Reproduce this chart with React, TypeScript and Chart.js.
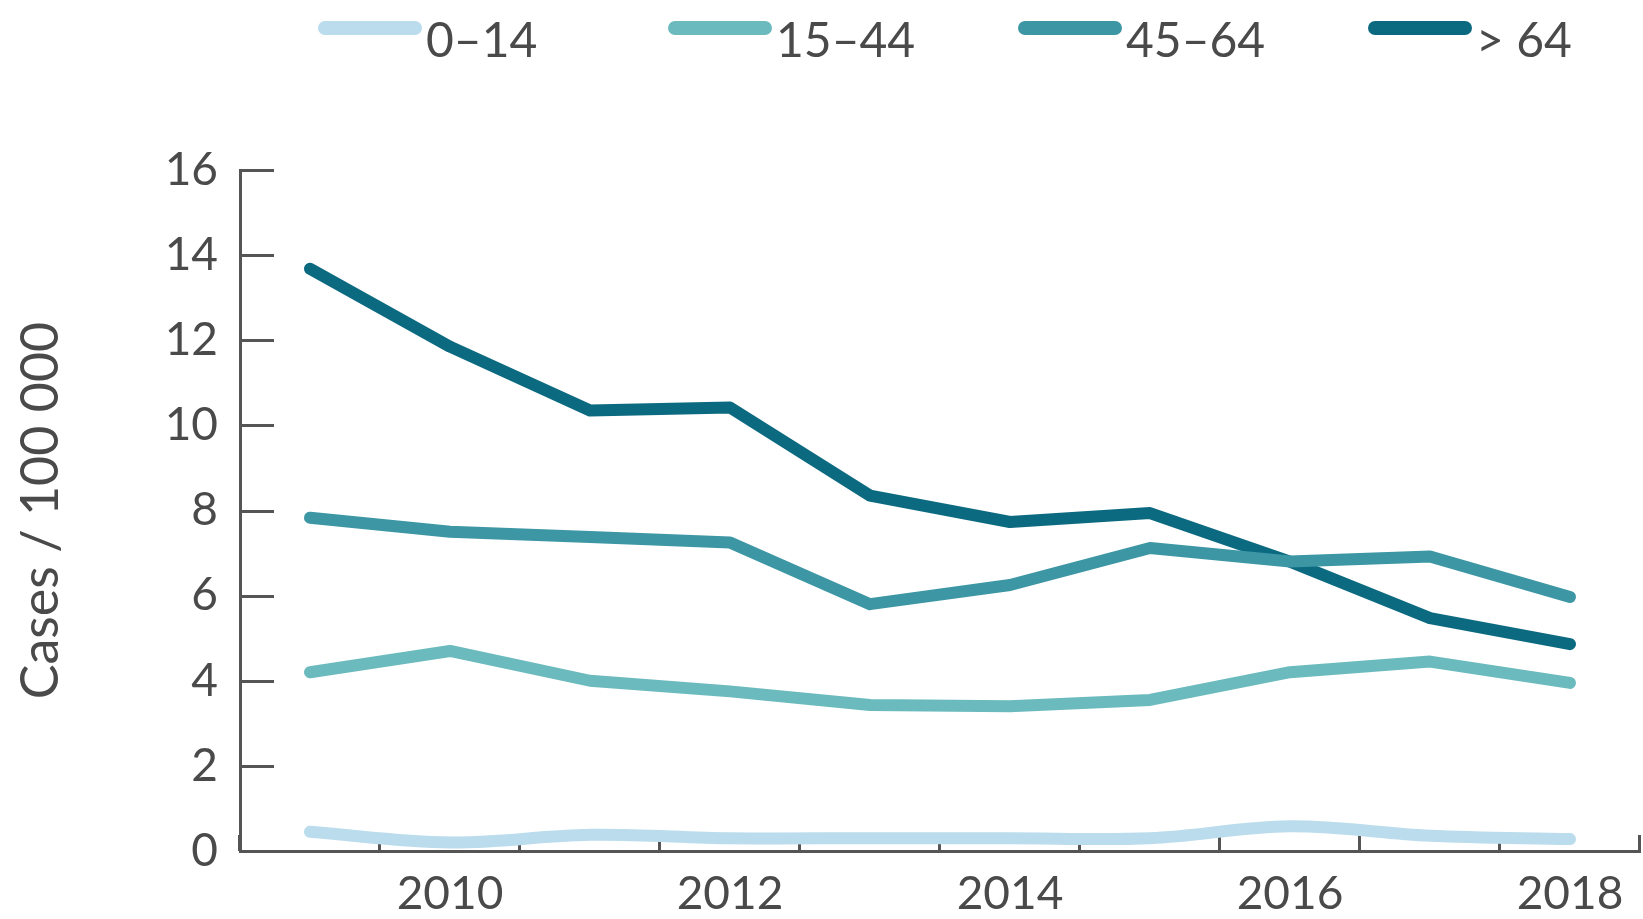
import React, { useEffect, useRef } from 'react';
import { Chart, registerables } from 'chart.js';

Chart.register(...registerables);

// ---- Data ----
const years = ['2009', '2010', '2011', '2012', '2013', '2014', '2015', '2016', '2017', '2018'];
const labelledYears = ['2010', '2012', '2014', '2016', '2018'];
const seriesLabels = ['0–14', '15–44', '45–64', '> 64'];
const age0to14 = [0.45, 0.2, 0.38, 0.3, 0.3, 0.3, 0.3, 0.58, 0.36, 0.28];
const age15to44 = [4.2, 4.7, 4.0, 3.75, 3.43, 3.4, 3.55, 4.2, 4.45, 3.95];
const age45to64 = [7.83, 7.5, 7.38, 7.25, 5.8, 6.25, 7.12, 6.8, 6.92, 5.97];
const ageOver64 = [13.68, 11.85, 10.35, 10.42, 8.35, 7.73, 7.94, 6.8, 5.47, 4.86];
const yMin = 0;
const yMax = 16;
const yStep = 2;
const yTitle = 'Cases / 100 000';

// ---- Style ----
const seriesColors = ['#bbdcec', '#6bbabd', '#3c96a4', '#0c6a80'];
const textColor = '#4a4a4a';
const axisColor = '#555555';
const fontFamily = 'Lato, "Open Sans", sans-serif';

const topLegend = {
  id: 'topLegend',
  afterDraw(chart: any) {
    const { ctx, chartArea } = chart;
    const cell = (chartArea.right - chartArea.left) / chart.data.datasets.length;
    chart.data.datasets.forEach((ds: any, i: number) => {
      const x0 = chartArea.left + 78 + i * cell;
      ctx.save();
      ctx.strokeStyle = ds.borderColor;
      ctx.lineWidth = 14;
      ctx.lineCap = 'round';
      ctx.beginPath();
      ctx.moveTo(x0 + 7, 28);
      ctx.lineTo(x0 + 97, 28);
      ctx.stroke();
      ctx.fillStyle = textColor;
      ctx.font = `48px ${fontFamily}`;
      ctx.textBaseline = 'alphabetic';
      ctx.textAlign = 'left';
      ctx.fillText(ds.label, x0 + 108, 57);
      ctx.restore();
    });
  },
};

const innerTicks = {
  id: 'innerTicks',
  beforeDatasetsDraw(chart: any) {
    const { ctx } = chart;
    const x = chart.scales.x;
    const y = chart.scales.y;
    ctx.save();
    ctx.strokeStyle = axisColor;
    ctx.lineWidth = 3;
    ctx.beginPath();
    y.ticks.forEach((t: any) => {
      const py = Math.round(y.getPixelForValue(t.value)) + 0.5;
      ctx.moveTo(y.right, py);
      ctx.lineTo(y.right + 34, py);
    });
    const n = chart.data.labels.length;
    const step = x.getPixelForValue(1) - x.getPixelForValue(0);
    const start = x.getPixelForValue(0) - step / 2;
    for (let i = 0; i <= n; i++) {
      const px = Math.round(start + i * step) - 0.5;
      ctx.moveTo(px, x.top);
      ctx.lineTo(px, x.top - 16);
    }
    ctx.stroke();
    ctx.restore();
  },
};

export default function App() {
  const canvasRef = useRef<HTMLCanvasElement | null>(null);

  useEffect(() => {
    document.body.style.margin = '0';
    const canvas = canvasRef.current;
    if (!canvas) return;
    const seriesData = [age0to14, age15to44, age45to64, ageOver64];
    const chart = new Chart(canvas, {
      type: 'line',
      data: {
        labels: years,
        datasets: seriesData.map((d, i) => ({
          label: seriesLabels[i],
          data: d,
          borderColor: seriesColors[i],
          backgroundColor: seriesColors[i],
          borderWidth: 12,
          pointRadius: 0,
          pointHoverRadius: 0,
          tension: i === 0 ? 0.35 : 0,
          borderCapStyle: 'round',
          borderJoinStyle: 'round',
          fill: false,
          clip: false,
        })),
      },
      options: {
        responsive: false,
        animation: false,
        devicePixelRatio: 1,
        layout: { padding: { top: 170, right: 3, left: 0, bottom: 0 } },
        plugins: {
          legend: { display: false },
          tooltip: { enabled: false },
        },
        scales: {
          x: {
            type: 'category',
            offset: true,
            grid: { display: false, drawTicks: false, offset: true },
            border: { display: true, color: axisColor, width: 3 },
            ticks: {
              autoSkip: false,
              maxRotation: 0,
              padding: 16,
              color: textColor,
              font: { family: fontFamily, size: 46 },
              callback: function (this: any, val: any) {
                const lbl = this.getLabelForValue(val);
                return labelledYears.includes(lbl) ? lbl : '';
              },
            },
            afterFit: (scale: any) => {
              scale.height = 68;
            },
          },
          y: {
            min: yMin,
            max: yMax,
            grid: { display: false, drawTicks: false },
            border: { display: true, color: axisColor, width: 3 },
            ticks: {
              stepSize: yStep,
              padding: 22,
              color: textColor,
              font: { family: fontFamily, size: 46 },
            },
            title: {
              display: true,
              text: yTitle,
              color: textColor,
              font: { family: fontFamily, size: 52 },
              padding: { top: 10, bottom: 0 },
            },
            afterFit: (scale: any) => {
              scale.width = 240;
            },
          },
        },
      },
      plugins: [innerTicks, topLegend],
    });
    return () => chart.destroy();
  }, []);

  return (
    <div style={{ width: 1643, height: 919 }}>
      <canvas ref={canvasRef} width={1643} height={919} style={{ display: 'block' }} />
    </div>
  );
}
